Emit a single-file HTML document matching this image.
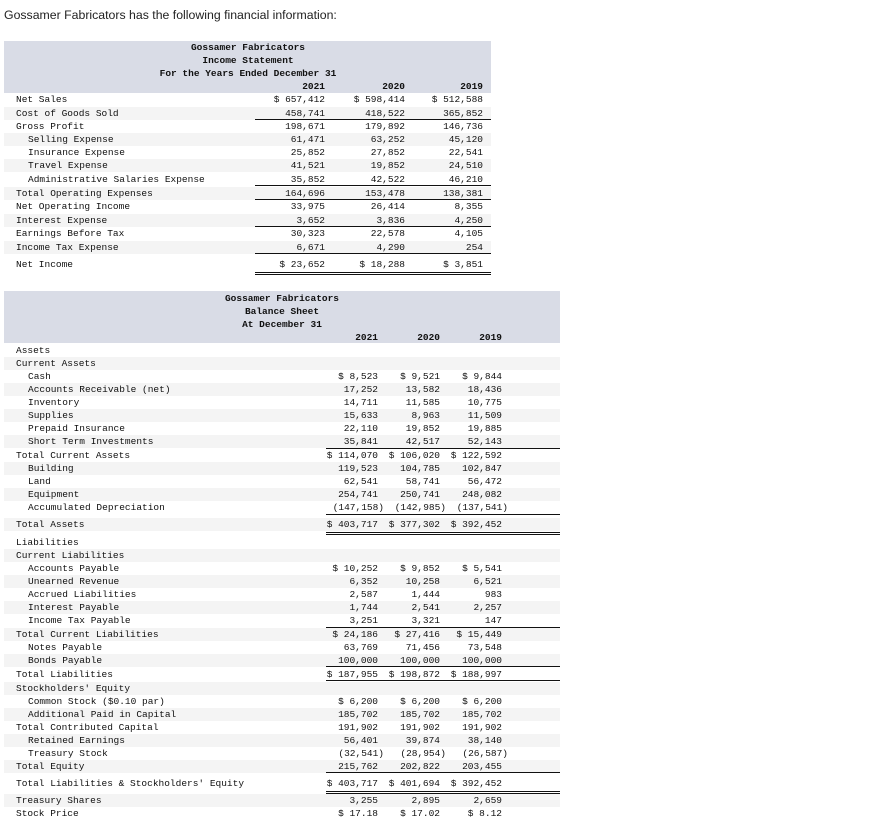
<!DOCTYPE html>
<html><head><meta charset="utf-8">
<style>
body{margin:0;width:882px;height:820px;background:#fff;position:relative;overflow:hidden;font-family:"Liberation Mono",monospace;font-size:9.5px;color:#111}
.a{position:absolute;white-space:pre;line-height:12px}
.r{text-align:right}
.c{text-align:center}
.hl{position:absolute;height:1px;background:#111}
.bg{position:absolute}
#intro{position:absolute;left:4px;top:8px;font-family:"Liberation Sans",sans-serif;font-size:12.3px;color:#222;white-space:nowrap}
</style></head><body>
<div id="intro">Gossamer Fabricators has the following financial information:</div>
<div id="root"></div>
<script>
var isLabels=[["Net Sales",0],["Cost of Goods Sold",0],["Gross Profit",0],["Selling Expense",1],["Insurance Expense",1],["Travel Expense",1],["Administrative Salaries Expense",1],["Total Operating Expenses",0],["Net Operating Income",0],["Interest Expense",0],["Earnings Before Tax",0],["Income Tax Expense",0],["Net Income",0]];
var isY=[99,113,126,139,152,165,179,193,206,220,233,247,264];
var is2021=["$ 657,412","458,741","198,671","61,471","25,852","41,521","35,852","164,696","33,975","3,652","30,323","6,671","$ 23,652"];
var is2020=["$ 598,414","418,522","179,892","63,252","27,852","19,852","42,522","153,478","26,414","3,836","22,578","4,290","$ 18,288"];
var is2019=["$ 512,588","365,852","146,736","45,120","22,541","24,510","46,210","138,381","8,355","4,250","4,105","254","$ 3,851"];
var isLines=[119,185,199,226,253,272,274];

var bsLabels=[["Assets",0],["Current Assets",0],["Cash",1],["Accounts Receivable (net)",1],["Inventory",1],["Supplies",1],["Prepaid Insurance",1],["Short Term Investments",1],["Total Current Assets",0],["Building",1],["Land",1],["Equipment",1],["Accumulated Depreciation",1],["Total Assets",0],["Liabilities",0],["Current Liabilities",0],["Accounts Payable",1],["Unearned Revenue",1],["Accrued Liabilities",1],["Interest Payable",1],["Income Tax Payable",1],["Total Current Liabilities",0],["Notes Payable",1],["Bonds Payable",1],["Total Liabilities",0],["Stockholders' Equity",0],["Common Stock ($0.10 par)",1],["Additional Paid in Capital",1],["Total Contributed Capital",0],["Retained Earnings",1],["Treasury Stock",1],["Total Equity",0],["Total Liabilities & Stockholders' Equity",0],["Treasury Shares",0],["Stock Price",0]];
var bsY=[350,363,376,389,402,415,428,441,455,468,481,494,507,524,542,555,568,581,594,607,620,634,647,660,674,688,701,714,727,740,753,766,783,800,813];
var bs2021=["","","$ 8,523","17,252","14,711","15,633","22,110","35,841","$ 114,070","119,523","62,541","254,741","(147,158)","$ 403,717","","","$ 10,252","6,352","2,587","1,744","3,251","$ 24,186","63,769","100,000","$ 187,955","","$ 6,200","185,702","191,902","56,401","(32,541)","215,762","$ 403,717","3,255","$ 17.18"];
var bs2020=["","","$ 9,521","13,582","11,585","8,963","19,852","42,517","$ 106,020","104,785","58,741","250,741","(142,985)","$ 377,302","","","$ 9,852","10,258","1,444","2,541","3,321","$ 27,416","71,456","100,000","$ 198,872","","$ 6,200","185,702","191,902","39,874","(28,954)","202,822","$ 401,694","2,895","$ 17.02"];
var bs2019=["","","$ 9,844","18,436","10,775","11,509","19,885","52,143","$ 122,592","102,847","56,472","248,082","(137,541)","$ 392,452","","","$ 5,541","6,521","983","2,257","147","$ 15,449","73,548","100,000","$ 188,997","","$ 6,200","185,702","191,902","38,140","(26,587)","203,455","$ 392,452","2,659","$ 8.12"];
var bsLines=[448,514,532,534,627,666,680,772,791,793];

var root=document.getElementById('root');
function el(cls,css,txt){var d=document.createElement('div');d.className=cls;d.style.cssText=css;if(txt!==undefined)d.textContent=txt;root.appendChild(d);return d;}

function table(prefix,x0,x1,hTop,hBot,titles,titleY,titleCx,years,yearY,colR,labels,ys,cols,lines,lx0){
  var h=el('bg','left:'+x0+'px;top:'+hTop+'px;width:'+(x1-x0)+'px;height:'+(hBot-hTop)+'px;background:#d9dce6');
  
  
  for(var i=0;i<ys.length;i++){
    if(i%2==1){
      var s=el('bg','left:'+x0+'px;top:'+(ys[i]-6.5)+'px;width:'+(x1-x0)+'px;height:13px;background:#f4f4f4');
      
      
    }
  }
  titles.forEach(function(t,i){
    var d=el('a c','left:'+(titleCx-150)+'px;width:300px;top:'+(titleY[i]-5)+'px;font-weight:bold',t);
    
    
  });
  years.forEach(function(t,i){
    var d=el('a r','left:'+(colR[i]-80)+'px;width:80px;top:'+(yearY-5)+'px;font-weight:bold',t);
    
    
  });
  labels.forEach(function(l,i){
    var d=el('a','left:'+(16+l[1]*12)+'px;top:'+(ys[i]-5)+'px',l[0]);
    
    
    cols.forEach(function(c,j){
      var v=c[i]; if(!v)return;
      var pr=v.charAt(0)=='('?6:0;
      var d2=el('a r','left:'+(colR[j]-100+pr)+'px;width:100px;top:'+(ys[i]-5)+'px',v);
      
      
    });
  });
  lines.forEach(function(y){
    var d=el('hl','left:'+lx0+'px;width:'+(x1-lx0)+'px;top:'+y+'px');
    
    
  });
}
table('income',4,491,41,93,["Gossamer Fabricators","Income Statement","For the Years Ended December 31"],[47,60,73],248,["2021","2020","2019"],86,[325,405,483],isLabels,isY,[is2021,is2020,is2019],isLines,255);
table('balance',4,560,291,343,["Gossamer Fabricators","Balance Sheet","At December 31"],[298,311,324],282,["2021","2020","2019"],337,[378,440,502],bsLabels,bsY,[bs2021,bs2020,bs2019],bsLines,326);
</script>
</body></html>
